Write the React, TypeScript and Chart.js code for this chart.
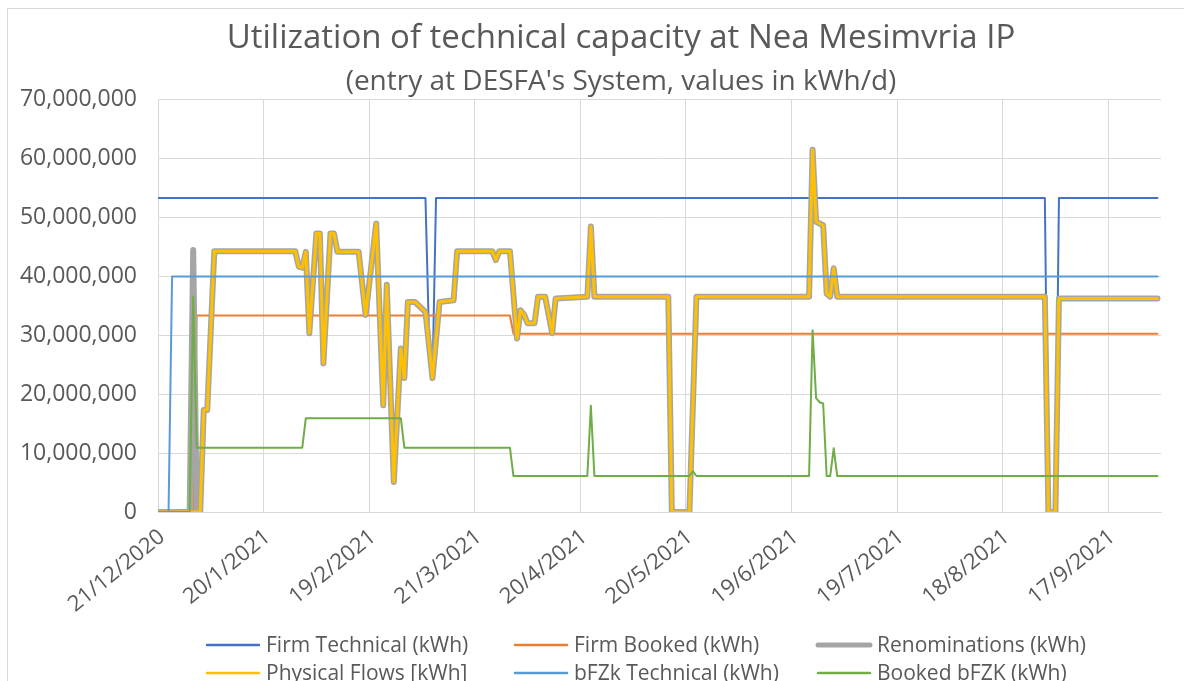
import React, { useEffect, useRef } from 'react';
import { Chart, registerables } from 'chart.js';

Chart.register(...registerables);

// ---- Text ----
const TITLE = 'Utilization of technical capacity at Nea Mesimvria IP';
const SUBTITLE = "(entry at DESFA's System, values in kWh/d)";

// x axis: day index counted from 21/12/2020, one tick every 30 days
const TICK_LABELS = ['21/12/2020', '20/1/2021', '19/2/2021', '21/3/2021', '20/4/2021', '20/5/2021', '19/6/2021', '19/7/2021', '18/8/2021', '17/9/2021'];
const TICK_STEP_DAYS = 30;
const LAST_DAY = 285;

const Y_MAX = 70000000;
const Y_STEP = 10000000;

const SERIES_NAMES = ['Firm Technical (kWh)', 'Firm Booked (kWh)', 'Renominations (kWh)', 'Physical Flows [kWh]', 'bFZk Technical (kWh)', 'Booked bFZK (kWh)'];
const SERIES_COLORS = ['#4472C4', '#ED7D31', '#A5A5A5', '#FFC000', '#5B9BD5', '#70AD47'];

// ---- Data: [day index, kWh/d] at every change of the series ----
const FIRM_TECHNICAL: [number, number][] = [
  [0, 53.2e6], [76, 53.2e6], [77, 30e6], [78, 22.7e6], [79, 53.2e6], [252, 53.2e6], [253, 0], [255, 0], [256, 53.2e6], [284, 53.2e6],
];

const FIRM_BOOKED: [number, number][] = [
  [0, 0], [10, 0], [11, 33.3e6], [100, 33.3e6], [101, 30.2e6], [284, 30.2e6],
];

const RENOMINATIONS: [number, number][] = [
  [0, 0], [9, 0], [10, 44.4e6], [11, 0], [12, 0], [13, 17.3e6], [14, 17.3e6], [16, 44.2e6], [39, 44.2e6], [40, 41.6e6], [41, 41.4e6],
  [42, 44.1e6], [43, 30.3e6], [45, 47.2e6], [46, 47.2e6], [47, 25.2e6], [49, 47.2e6], [50, 47.2e6], [51, 44.1e6], [57, 44.1e6],
  [59, 33.4e6], [62, 48.9e6], [64, 18.1e6], [65, 38.5e6], [67, 5.1e6], [69, 27.7e6], [70, 22.7e6], [71, 35.6e6], [73, 35.6e6],
  [76, 33.9e6], [78, 22.7e6], [80, 35.6e6], [84, 35.9e6], [85, 44.2e6], [95, 44.2e6], [96, 42.7e6], [97, 44.2e6], [100, 44.2e6],
  [102, 29.4e6], [103, 34.2e6], [104, 33.5e6], [105, 32e6], [107, 32e6], [108, 36.5e6], [110, 36.5e6], [112, 30.3e6], [113, 36.2e6],
  [122, 36.5e6], [123, 48.4e6], [124, 36.5e6], [145, 36.5e6], [146, 0], [151, 0], [153, 36.5e6], [185, 36.5e6], [186, 61.4e6],
  [187, 49.2e6], [189, 48.6e6], [190, 37e6], [191, 36.5e6], [192, 41.3e6], [193, 36.5e6], [252, 36.5e6], [253, 0], [255, 0],
  [256, 36.2e6], [284, 36.2e6],
];

const PHYSICAL_FLOWS: [number, number][] = [
  [0, 0], [12, 0], [13, 17.3e6], [14, 17.3e6], [16, 44.2e6], [39, 44.2e6], [40, 41.6e6], [41, 41.4e6],
  [42, 44.1e6], [43, 30.3e6], [45, 47.2e6], [46, 47.2e6], [47, 25.2e6], [49, 47.2e6], [50, 47.2e6], [51, 44.1e6], [57, 44.1e6],
  [59, 33.4e6], [62, 48.9e6], [64, 18.1e6], [65, 38.5e6], [67, 5.1e6], [69, 27.7e6], [70, 22.7e6], [71, 35.6e6], [73, 35.6e6],
  [76, 33.9e6], [78, 22.7e6], [80, 35.6e6], [84, 35.9e6], [85, 44.2e6], [95, 44.2e6], [96, 42.7e6], [97, 44.2e6], [100, 44.2e6],
  [102, 29.4e6], [103, 34.2e6], [104, 33.5e6], [105, 32e6], [107, 32e6], [108, 36.5e6], [110, 36.5e6], [112, 30.3e6], [113, 36.2e6],
  [122, 36.5e6], [123, 48.4e6], [124, 36.5e6], [145, 36.5e6], [146, 0], [151, 0], [153, 36.5e6], [185, 36.5e6], [186, 61.4e6],
  [187, 49.2e6], [189, 48.6e6], [190, 37e6], [191, 36.5e6], [192, 41.3e6], [193, 36.5e6], [252, 36.5e6], [253, 0], [255, 0],
  [256, 36.2e6], [284, 36.2e6],
];

const BFZK_TECHNICAL: [number, number][] = [
  [0, 0], [3, 0], [4, 39.9e6], [284, 39.9e6],
];

const BOOKED_BFZK: [number, number][] = [
  [0, 0], [9, 0], [10, 36.5e6], [11, 10.9e6], [41, 10.9e6], [42, 15.9e6], [69, 15.9e6], [70, 10.9e6], [100, 10.9e6], [101, 6.1e6],
  [122, 6.1e6], [123, 18.0e6], [124, 6.1e6], [151, 6.1e6], [152, 6.9e6], [153, 6.1e6], [185, 6.1e6], [186, 30.8e6], [187, 19.3e6],
  [188, 18.6e6], [189, 18.4e6], [190, 6.1e6], [191, 6.1e6], [192, 10.8e6], [193, 6.1e6], [284, 6.1e6],
];

const SERIES_DATA = [FIRM_TECHNICAL, FIRM_BOOKED, RENOMINATIONS, PHYSICAL_FLOWS, BFZK_TECHNICAL, BOOKED_BFZK];
const SERIES_WIDTHS = [2, 2, 6, 3, 2, 2];

const FONT = '"Open Sans", "DejaVu Sans", sans-serif';
const TEXT_COLOR = '#595959';
const GRID_COLOR = '#d9d9d9';

const titleLegendPlugin = {
  id: 'titleLegend',
  afterDraw(chart: any) {
    const ctx = chart.ctx as CanvasRenderingContext2D;
    ctx.save();
    ctx.fillStyle = TEXT_COLOR;
    ctx.textAlign = 'center';
    ctx.textBaseline = 'alphabetic';
    ctx.font = `33px ${FONT}`;
    ctx.fillText(TITLE, chart.width / 2, 39);
    ctx.font = `28px ${FONT}`;
    ctx.fillText(SUBTITLE, chart.width / 2, 81);

    const colX = [199, 507, 810];
    const rowY = [636, 664];
    ctx.textAlign = 'left';
    ctx.font = `21px ${FONT}`;
    SERIES_NAMES.forEach((name, i) => {
      const col = i % 3;
      const row = Math.floor(i / 3);
      const x = colX[col];
      const y = rowY[row];
      ctx.strokeStyle = SERIES_COLORS[i];
      ctx.lineWidth = i === 2 ? 5 : 2.5;
      ctx.lineCap = 'round';
      ctx.beginPath();
      ctx.moveTo(x, y);
      ctx.lineTo(x + 52, y);
      ctx.stroke();
      ctx.fillStyle = TEXT_COLOR;
      ctx.fillText(name, x + 59, y + 7);
    });
    ctx.restore();
  },
};

export default function App() {
  const canvasRef = useRef<HTMLCanvasElement | null>(null);

  useEffect(() => {
    if (!canvasRef.current) return;
    const datasets = SERIES_NAMES.map((name, i) => ({
      label: name,
      data: SERIES_DATA[i].map(([d, v]) => ({ x: d, y: v })),
      borderColor: SERIES_COLORS[i],
      backgroundColor: SERIES_COLORS[i],
      borderWidth: SERIES_WIDTHS[i],
      pointRadius: 0,
      tension: 0,
      fill: false,
      borderJoinStyle: 'round' as const,
      borderCapStyle: 'round' as const,
      order: SERIES_NAMES.length - i,
    }));

    const chart = new Chart(canvasRef.current, {
      type: 'line',
      data: { datasets },
      options: {
        animation: false,
        responsive: false,
        devicePixelRatio: 1,
        events: [],
        layout: { padding: { top: 90, right: 73, bottom: 85, left: 0 } },
        plugins: {
          legend: { display: false },
          title: { display: false },
          tooltip: { enabled: false },
        },
        scales: {
          x: {
            type: 'linear',
            min: 0,
            max: LAST_DAY,
            grid: { color: GRID_COLOR, drawTicks: false, lineWidth: 1 },
            border: { color: GRID_COLOR },
            ticks: {
              stepSize: TICK_STEP_DAYS,
              autoSkip: false,
              includeBounds: false,
              maxRotation: 39,
              minRotation: 39,
              padding: 12,
              labelOffset: 4,
              color: TEXT_COLOR,
              font: { family: FONT, size: 22 },
              callback: (v: any) => {
                const idx = Math.round(Number(v) / TICK_STEP_DAYS);
                return Number(v) % TICK_STEP_DAYS === 0 && TICK_LABELS[idx] ? TICK_LABELS[idx] : '';
              },
            },
            afterFit: (s: any) => { s.height = 110; },
          },
          y: {
            min: 0,
            max: Y_MAX,
            grid: { color: GRID_COLOR, drawTicks: false, lineWidth: 1 },
            border: { display: false },
            ticks: {
              stepSize: Y_STEP,
              padding: 21,
              color: TEXT_COLOR,
              font: { family: FONT, size: 23 },
              callback: (v: any) => Number(v).toLocaleString('en-US'),
            },
            afterFit: (s: any) => { s.width = 150; },
          },
        },
      },
      plugins: [titleLegendPlugin],
    } as any);
    return () => chart.destroy();
  }, []);

  return (
    <div style={{ position: 'fixed', left: 0, top: 0, width: 1184, height: 681, overflow: 'hidden', background: '#fff' }}>
      <div style={{ position: 'absolute', left: 7, top: 8, width: 1228, height: 700, border: `1px solid ${GRID_COLOR}`, boxSizing: 'border-box', background: '#fff' }}>
        <canvas ref={canvasRef} width={1226} height={698} style={{ display: 'block', width: 1226, height: 698 }} />
      </div>
    </div>
  );
}
